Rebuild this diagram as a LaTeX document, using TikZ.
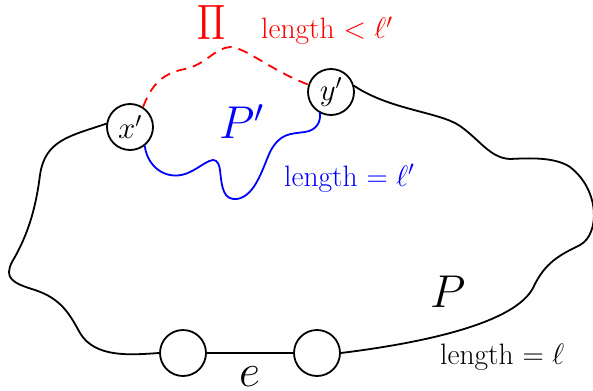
\RequirePackage{fix-cm}
\documentclass[tikz,border=0pt]{standalone}
\usepackage{amsmath}
\usepackage{graphicx}
\begin{document}
\begin{tikzpicture}[x=1pt,y=-1pt,
  vtx/.style={circle,draw,line width=1.8pt,minimum size=46pt,inner sep=0pt,fill=white,font=\fontsize{31}{36}\selectfont},
  pth/.style={line width=1.8pt,line join=round,line cap=round},
  big/.style={inner sep=0pt,font=\fontsize{46}{54}\selectfont},
  len/.style={inner sep=0pt,font=\fontsize{29.5}{34}\selectfont},
]
\useasboundingbox (0,0) rectangle (593,390);
\node[vtx] (x) at (130,127) {$x'$};
\node[vtx] (y) at (331,92) {$y'$};
\node[vtx] (a) at (183,353) {};
\node[vtx] (b) at (317,353) {};
% path P
\draw[pth] (x.172) .. controls (70,136) and (45,140) .. (40,175)
  .. controls (35,215) and (25,240) .. (12,262)
  .. controls (4,278) and (12,283) .. (35,290)
  .. controls (62,299) and (70,315) .. (80,333)
  .. controls (95,358) and (130,355) .. (a.west);
\draw[pth] (b.east) .. controls (430,342) and (515,322) .. (533,288)
  .. controls (545,262) and (560,255) .. (580,245)
  .. controls (600,234) and (600,190) .. (570,167)
  .. controls (555,157) and (530,158) .. (510,159)
  .. controls (490,158) and (480,140) .. (460,126)
  .. controls (440,112) and (390,110) .. (y.15);
\draw[pth] (a) -- (b);
% path P'
\draw[pth,blue] (x.-52) .. controls (148,170) and (170,182) .. (190,172)
  .. controls (205,165) and (217,150) .. (220,170)
  .. controls (222,190) and (224,200) .. (237,199)
  .. controls (255,196) and (262,170) .. (270,152)
  .. controls (280,133) and (290,134) .. (305,132)
  .. controls (318,130) and (321,120) .. (y.-118);
% path Pi
\draw[pth,red,dash pattern=on 10pt off 7pt,line cap=butt] (x.57) .. controls (150,90) and (158,74) .. (185,69)
  .. controls (205,65) and (215,48) .. (230,47)
  .. controls (245,47) and (270,70) .. (y.162);
% labels
\node[inner sep=0pt,text=red] (pi) at (211,22) {\resizebox{28pt}{34pt}{$\Pi$}};
\node[len,text=red,anchor=base west] (lpi) at (261,39) {length $< \ell'$};
\node[big,text=blue,anchor=base west] (pp) at (219,139) {$P'$};
\node[len,text=blue,anchor=base west] (lpp) at (284,186) {length $= \ell'$};
\node[big,anchor=base west] (p) at (430,307) {$P$};
\node[len,anchor=base west] (lp) at (440,364) {length $= \ell$};
\node[big,anchor=base west] (e) at (239,386) {$e$};
\end{tikzpicture}
\end{document}
